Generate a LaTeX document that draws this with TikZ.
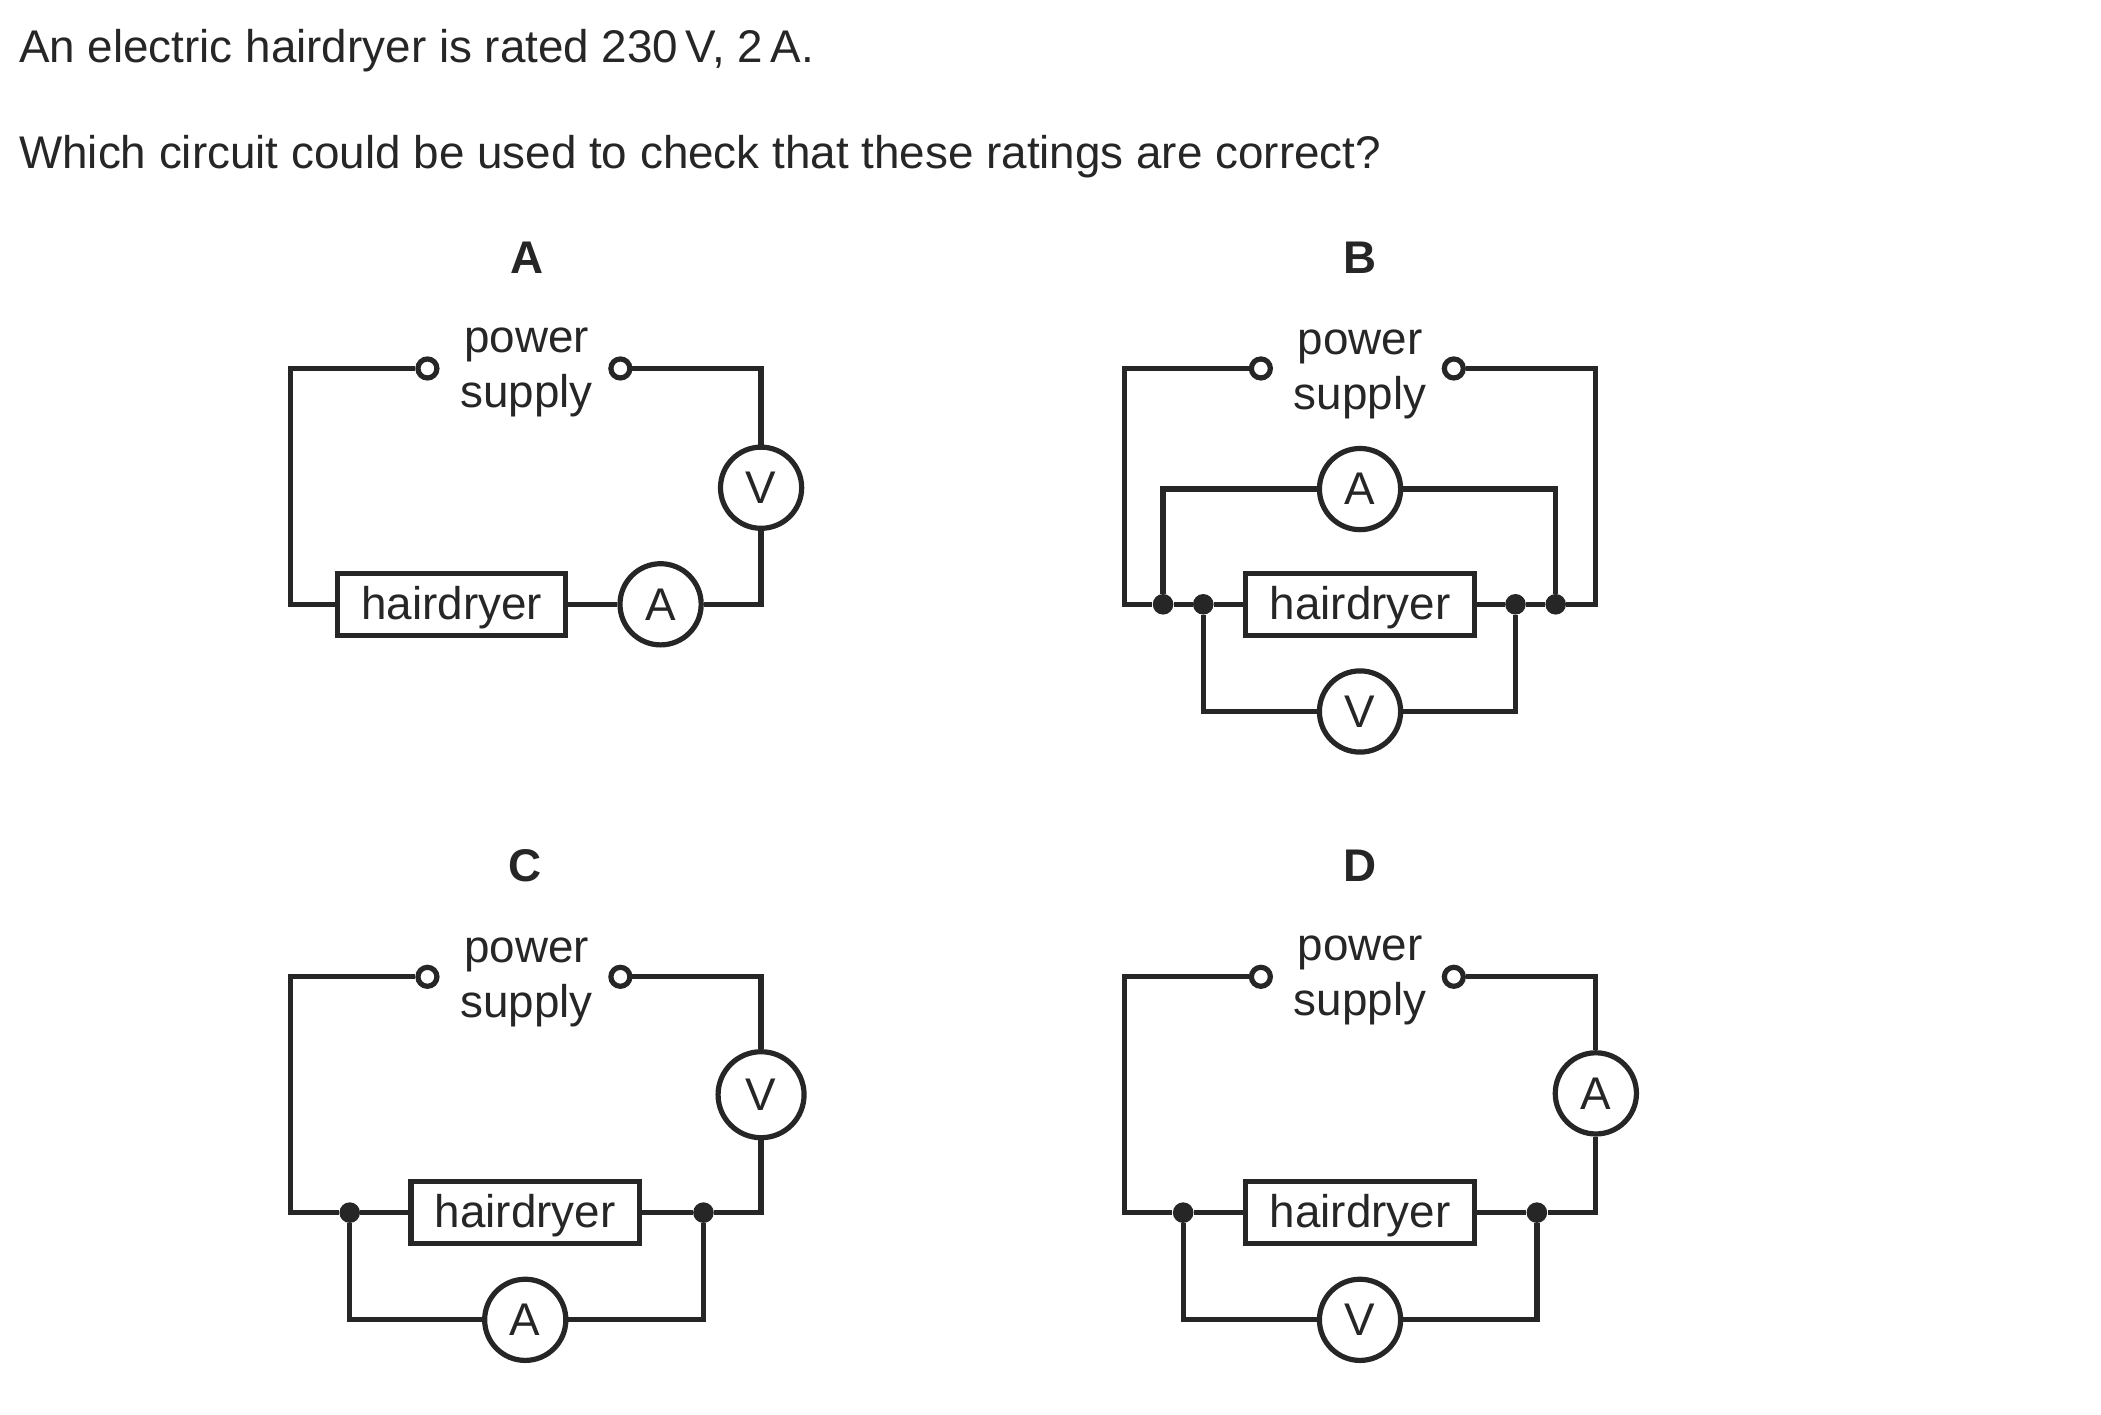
\documentclass[tikz,border=0pt]{standalone}
\usepackage{fontspec}
\setmainfont{Liberation Sans}
\definecolor{ink}{HTML}{262626}
\tikzset{
  x=0.67pt,y=-0.67pt,
  wire/.style={draw=ink,line width=2.6pt,line join=miter},
  meter/.style={circle,draw=ink,line width=2.6pt,fill=white,minimum size=40.6pt,inner sep=0pt,font=\fontsize{22.9}{26}\selectfont,text=ink},
  load/.style={rectangle,draw=ink,line width=2.6pt,fill=white,minimum width=114.2pt,minimum height=30.8pt,inner sep=0pt,text height=19.8pt,text depth=5pt,font=\fontsize{22.9}{26}\selectfont,text=ink},
  terminal/.style={circle,draw=ink,line width=2.6pt,fill=white,minimum size=9.5pt,inner sep=0pt},
  junction/.style={circle,fill=ink,minimum size=10.3pt,inner sep=0pt},
  psu/.style={align=center,font=\fontsize{22.9}{27.5}\selectfont,text=ink,inner sep=0pt},
  head/.style={font=\bfseries\fontsize{22.9}{26}\selectfont,text=ink,inner sep=0pt},
  question/.style={anchor=base west,font=\fontsize{22.9}{26}\selectfont,text=ink,inner sep=0pt}
}
\begin{document}
\begin{tikzpicture}
\useasboundingbox (0,0) rectangle (1568,1056);
\node[question] (q1) at (14,47) {An electric hairdryer is rated 230\,V, 2\,A.};
\node[question] (q2) at (14,126) {Which circuit could be used to check that these ratings are correct?};
% A
\node[head] (la) at (393,192) {A};
\node[psu] (pa) at (393,278) {power\\supply};
\node[terminal] (ta1) at (319,275) {};
\node[terminal] (ta2) at (463,275) {};
\node[meter] (va) at (568,364) {V};
\node[meter] (aa) at (493,451) {A};
\node[load] (ha) at (337,451) {hairdryer};
\coordinate (a1) at (217,275);
\coordinate (a2) at (217,451);
\coordinate (a3) at (568,275);
\coordinate (a4) at (568,451);
\draw[wire] (ta1) -- (a1) -- (a2) -- (ha);
\draw[wire] (ha) -- (aa);
\draw[wire] (aa) -- (a4) -- (va);
\draw[wire] (va) -- (a3) -- (ta2);
% B
\node[head] (lb) at (1015,192) {B};
\node[psu] (pb) at (1015,279.5) {power\\supply};
\node[terminal] (tb1) at (941,275) {};
\node[terminal] (tb2) at (1085,275) {};
\node[load] (hb) at (1015,451) {hairdryer};
\node[meter] (ab) at (1015,365) {A};
\node[meter] (vb) at (1015,531) {V};
\node[junction] (jb1) at (868,451) {};
\node[junction] (jb2) at (898,451) {};
\node[junction] (jb3) at (1131,451) {};
\node[junction] (jb4) at (1161,451) {};
\coordinate (b1) at (839,275);
\coordinate (b2) at (839,451);
\coordinate (b3) at (1191,275);
\coordinate (b4) at (1191,451);
\coordinate (b5) at (868,365);
\coordinate (b6) at (1161,365);
\coordinate (b7) at (898,531);
\coordinate (b8) at (1131,531);
\draw[wire] (tb1) -- (b1) -- (b2) -- (jb1) -- (jb2) -- (hb);
\draw[wire] (tb2) -- (b3) -- (b4) -- (jb4) -- (jb3) -- (hb);
\draw[wire] (jb1) -- (b5) -- (ab);
\draw[wire] (ab) -- (b6) -- (jb4);
\draw[wire] (jb2) -- (b7) -- (vb);
\draw[wire] (vb) -- (b8) -- (jb3);
% C
\node[head] (lc) at (392,646) {C};
\node[psu] (pc) at (393,733.5) {power\\supply};
\node[terminal] (tc1) at (319,729) {};
\node[terminal] (tc2) at (463,729) {};
\node[meter,minimum size=43pt] (vc) at (568,817) {V};
\node[load] (hc) at (392,905) {hairdryer};
\node[meter] (ac) at (392,985) {A};
\node[junction] (jc1) at (261,905) {};
\node[junction] (jc2) at (525,905) {};
\coordinate (c1) at (217,729);
\coordinate (c2) at (217,905);
\coordinate (c3) at (568,729);
\coordinate (c4) at (568,905);
\coordinate (c5) at (261,985);
\coordinate (c6) at (525,985);
\draw[wire] (tc1) -- (c1) -- (c2) -- (jc1) -- (hc);
\draw[wire] (hc) -- (jc2) -- (c4) -- (vc);
\draw[wire] (vc) -- (c3) -- (tc2);
\draw[wire] (jc1) -- (c5) -- (ac);
\draw[wire] (ac) -- (c6) -- (jc2);
% D
\node[head] (ld) at (1015,646) {D};
\node[psu] (pd) at (1015,731.5) {power\\supply};
\node[terminal] (td1) at (941,729) {};
\node[terminal] (td2) at (1085,729) {};
\node[meter] (ad) at (1191,816) {A};
\node[load] (hd) at (1015,905) {hairdryer};
\node[meter] (vd) at (1015,985) {V};
\node[junction] (jd1) at (883,905) {};
\node[junction] (jd2) at (1147,905) {};
\coordinate (d1) at (839,729);
\coordinate (d2) at (839,905);
\coordinate (d3) at (1191,729);
\coordinate (d4) at (1191,905);
\coordinate (d5) at (883,985);
\coordinate (d6) at (1147,985);
\draw[wire] (td1) -- (d1) -- (d2) -- (jd1) -- (hd);
\draw[wire] (hd) -- (jd2) -- (d4) -- (ad);
\draw[wire] (ad) -- (d3) -- (td2);
\draw[wire] (jd1) -- (d5) -- (vd);
\draw[wire] (vd) -- (d6) -- (jd2);
\end{tikzpicture}
\end{document}
